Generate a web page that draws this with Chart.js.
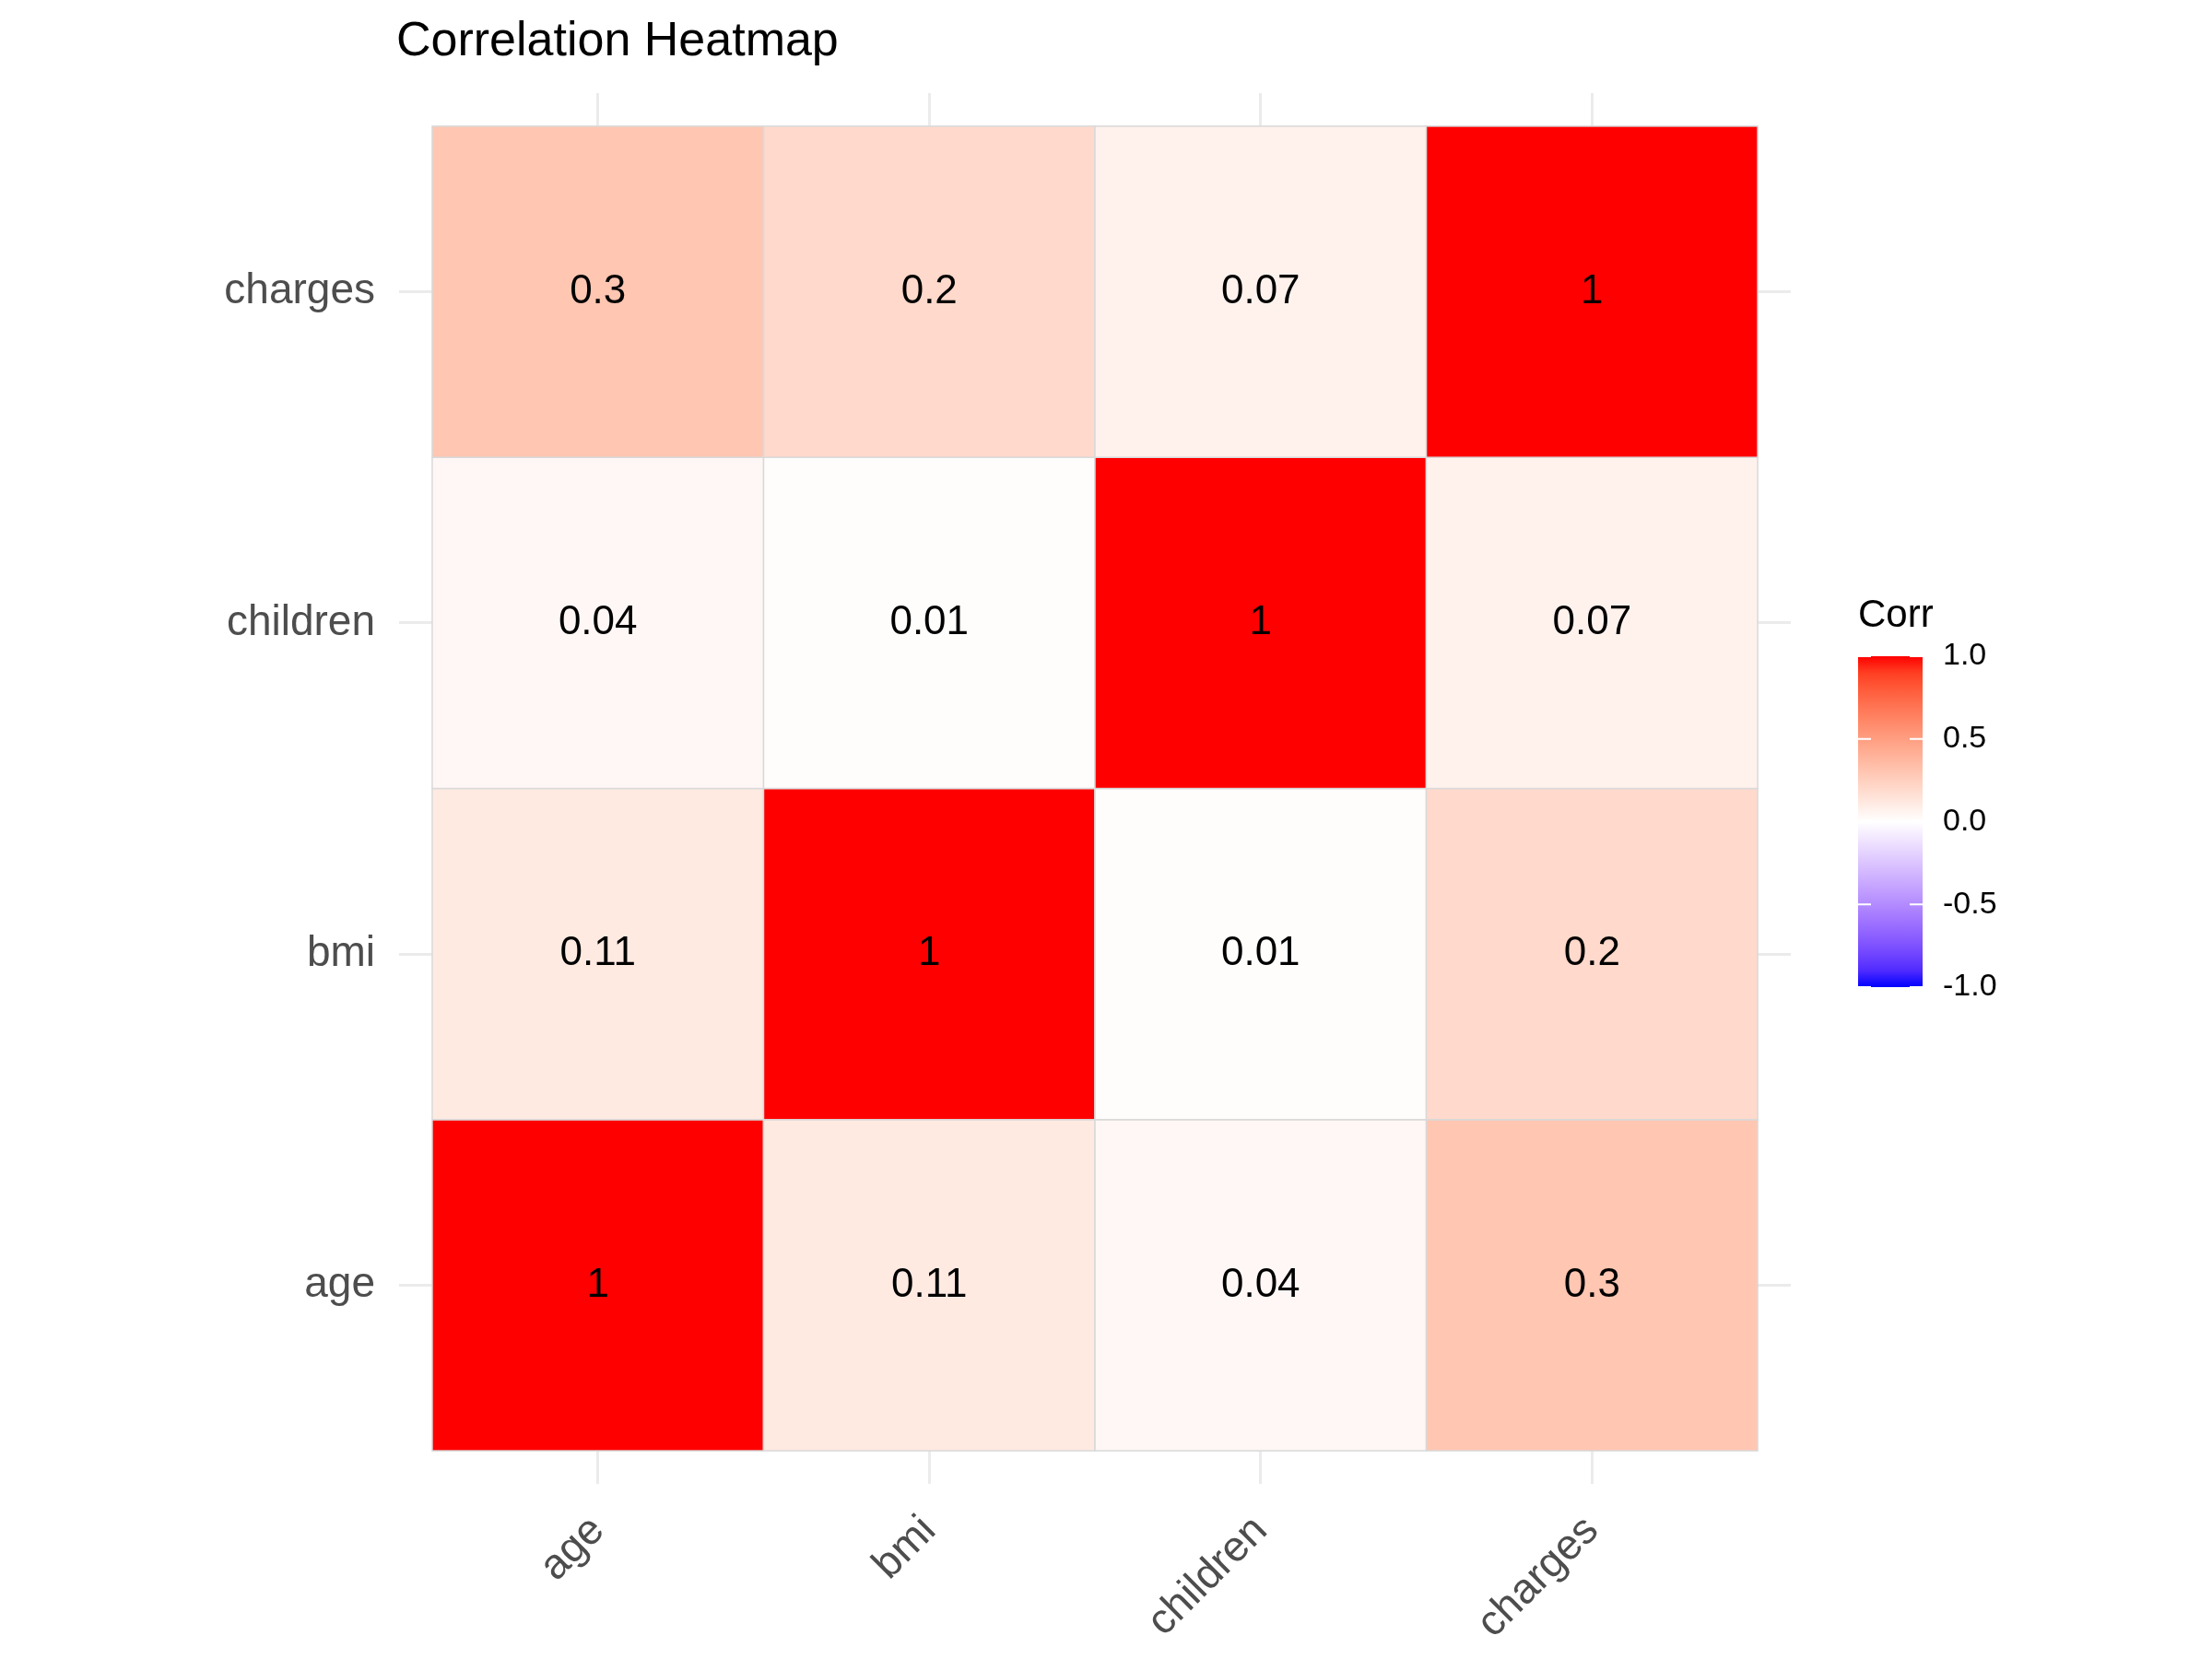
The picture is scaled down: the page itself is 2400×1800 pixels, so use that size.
<!DOCTYPE html>
<html><head><meta charset="utf-8">
<script src="https://cdn.jsdelivr.net/npm/chart.js@4"></script>
<style>html,body{margin:0;background:#fff}</style>
</head><body>
<canvas id="c" width="2400" height="1800"></canvas>
<script>
// Variablen und Korrelationen
const vars = ["age", "bmi", "children", "charges"];
const corr = [
  [1, 0.11, 0.04, 0.3],
  [0.11, 1, 0.01, 0.2],
  [0.04, 0.01, 1, 0.07],
  [0.3, 0.2, 0.07, 1]
];
const legendTicks = [1.0, 0.5, 0.0, -0.5, -1.0];
const titleText = "Correlation Heatmap";
const legendTitle = "Corr";

// Farbverlauf blau-weiß-rot in Lab
function toLab(r, g, b) {
  const f = c => { c /= 255; return c > 0.04045 ? Math.pow((c + 0.055) / 1.055, 2.4) : c / 12.92; };
  const R = f(r), G = f(g), B = f(b);
  let x = (R * 0.4124 + G * 0.3576 + B * 0.1805) / 0.95047;
  let y = (R * 0.2126 + G * 0.7152 + B * 0.0722);
  let z = (R * 0.0193 + G * 0.1192 + B * 0.9505) / 1.08883;
  const h = t => t > 0.008856 ? Math.cbrt(t) : 7.787 * t + 16 / 116;
  x = h(x); y = h(y); z = h(z);
  return [116 * y - 16, 500 * (x - y), 200 * (y - z)];
}
function fromLab(L, a, bb) {
  let y = (L + 16) / 116, x = a / 500 + y, z = y - bb / 200;
  const h = t => t ** 3 > 0.008856 ? t ** 3 : (t - 16 / 116) / 7.787;
  x = h(x) * 0.95047; y = h(y); z = h(z) * 1.08883;
  const g = c => { c = c > 0.0031308 ? 1.055 * Math.pow(c, 1 / 2.4) - 0.055 : 12.92 * c; return Math.round(Math.max(0, Math.min(1, c)) * 255); };
  return `rgb(${g(x * 3.2406 + y * -1.5372 + z * -0.4986)},${g(x * -0.9689 + y * 1.8758 + z * 0.0415)},${g(x * 0.0557 + y * -0.2040 + z * 1.0570)})`;
}
const labBlue = toLab(0, 0, 255), labWhite = toLab(255, 255, 255), labRed = toLab(255, 0, 0);
function colorFor(v) {
  const end = v >= 0 ? labRed : labBlue, t = Math.abs(v);
  return fromLab(...labWhite.map((w, i) => w + (end[i] - w) * t));
}

const heatPlugin = {
  id: "heat",
  beforeDatasetsDraw(chart) {
    const ctx = chart.ctx, xs = chart.scales.x, ys = chart.scales.y;
    ctx.save();
    for (let i = 0; i < vars.length; i++) {
      for (let j = 0; j < vars.length; j++) {
        const x0 = xs.getPixelForValue(i - 0.5), x1 = xs.getPixelForValue(i + 0.5);
        const y0 = ys.getPixelForValue(j + 0.5), y1 = ys.getPixelForValue(j - 0.5);
        ctx.fillStyle = colorFor(corr[i][j]);
        ctx.fillRect(x0, y0, x1 - x0, y1 - y0);
        ctx.strokeStyle = "#d9d9d9"; ctx.lineWidth = 1.5;
        ctx.strokeRect(x0, y0, x1 - x0, y1 - y0);
      }
    }
    ctx.fillStyle = "#000"; ctx.font = "44px Arial, 'Liberation Sans'";
    ctx.textAlign = "center"; ctx.textBaseline = "middle";
    for (let i = 0; i < vars.length; i++)
      for (let j = 0; j < vars.length; j++)
        ctx.fillText(String(corr[i][j]), xs.getPixelForValue(i), ys.getPixelForValue(j));

    // Titel
    ctx.textAlign = "left"; ctx.textBaseline = "middle";
    ctx.font = "52px Arial, 'Liberation Sans'";
    ctx.fillText(titleText, 430, 46);

    // Legende
    const lx = 2016, lw = 70, ly0 = 712, ly1 = 1071;
    const grad = ctx.createLinearGradient(0, ly0, 0, ly1);
    for (let k = 0; k <= 20; k++) { const v = 1 - k / 10; grad.addColorStop(k / 20, colorFor(v)); }
    ctx.fillStyle = grad; ctx.fillRect(lx, ly0, lw, ly1 - ly0);
    ctx.font = "42px Arial, 'Liberation Sans'"; ctx.fillStyle = "#000";
    ctx.textBaseline = "alphabetic"; ctx.fillText(legendTitle, 2016, 680);
    ctx.font = "34px Arial, 'Liberation Sans'"; ctx.textBaseline = "middle";
    legendTicks.forEach(v => {
      const y = ly0 + (1 - v) / 2 * (ly1 - ly0);
      ctx.strokeStyle = "#fff"; ctx.lineWidth = 2;
      ctx.beginPath(); ctx.moveTo(lx, y); ctx.lineTo(lx + 14, y);
      ctx.moveTo(lx + lw - 14, y); ctx.lineTo(lx + lw, y); ctx.stroke();
      ctx.fillStyle = "#000"; ctx.fillText(v.toFixed(1), lx + lw + 22, y);
    });
    ctx.restore();
  }
};

const tickFont = { size: 46, family: "Arial, 'Liberation Sans'" };
const axisBase = {
  type: "linear", min: -0.6, max: 3.6,
  afterBuildTicks: s => { s.ticks = vars.map((_, i) => ({ value: i })); },
  grid: { color: "#ebebeb", lineWidth: 3, drawTicks: false },
  border: { display: false },
  ticks: { font: tickFont, color: "#4d4d4d", callback: v => vars[v] }
};

new Chart(document.getElementById("c"), {
  type: "scatter",
  data: { datasets: [{ data: [], showLine: false }] },
  options: {
    responsive: false, animation: false,
    layout: { padding: { left: 0, right: 457, top: 101, bottom: 0 } },
    plugins: { legend: { display: false }, tooltip: { enabled: false } },
    scales: {
      x: Object.assign({}, axisBase, {
        ticks: Object.assign({}, axisBase.ticks, { minRotation: 45, maxRotation: 45, padding: 24 }),
        afterFit: s => { s.height = 190; }
      }),
      y: Object.assign({}, axisBase, {
        ticks: Object.assign({}, axisBase.ticks, { padding: 26 }),
        afterFit: s => { s.width = 433; }
      })
    }
  },
  plugins: [heatPlugin]
});
</script>
</body></html>
